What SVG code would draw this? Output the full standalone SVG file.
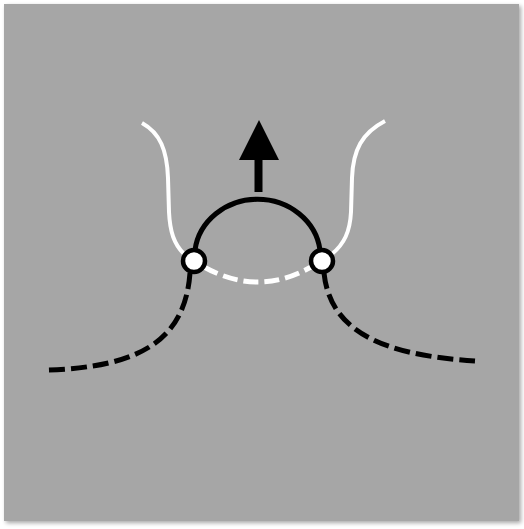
<svg xmlns="http://www.w3.org/2000/svg" width="524" height="529" viewBox="0 0 524 529">
  <defs>
    <filter id="shadow" x="-5%" y="-5%" width="110%" height="110%">
      <feGaussianBlur in="SourceAlpha" stdDeviation="2"/>
      <feOffset dx="2" dy="2" result="b"/>
      <feComponentTransfer><feFuncA type="linear" slope="0.35"/></feComponentTransfer>
      <feMerge><feMergeNode/><feMergeNode in="SourceGraphic"/></feMerge>
    </filter>
    <style>
      .wsolid { fill: none; stroke: #ffffff; stroke-width: 4; stroke-linecap: butt; }
      .wdash { fill: none; stroke: #ffffff; stroke-width: 5; stroke-dasharray: 15 6; }
      .bdash { fill: none; stroke: #000000; stroke-width: 5; stroke-dasharray: 16 6; }
      .bsolid { fill: none; stroke: #000000; stroke-width: 5; }
      .node { fill: #ffffff; stroke: #000000; stroke-width: 4.5; }
    </style>
  </defs>
  <rect x="0" y="0" width="524" height="529" fill="#ffffff"/>
  <rect x="4" y="4" width="515" height="517" fill="#a6a6a6" filter="url(#shadow)"/>
  <g id="connectors">
    <path class="wsolid" d="M142,123 C160,133 167,150 168,178 L169,212 C170,232 174,244 184,254"/>
    <path class="wsolid" d="M385,121 C362,133 353,150 352,178 L351,212 C350,232 344,244 332,254"/>
    <path class="wdash" d="M204,267 Q258,297 311,267"/>
    <path class="bdash" d="M190,273 C185,340 140,367 48,370"/>
    <path class="bdash" d="M324,273 C330,330 380,355 475,361"/>
    <path class="bsolid" d="M195,250 A63 58 0 0 1 320,250"/>
    <g id="arrow">
      <rect x="254.5" y="158" width="8" height="34" fill="#000000"/>
      <polygon points="259,120 239,160 279,160" fill="#000000"/>
    </g>
  </g>
  <g id="node-left"><circle class="node" cx="194" cy="261" r="11"/></g>
  <g id="node-right"><circle class="node" cx="322" cy="261" r="11"/></g>
</svg>
